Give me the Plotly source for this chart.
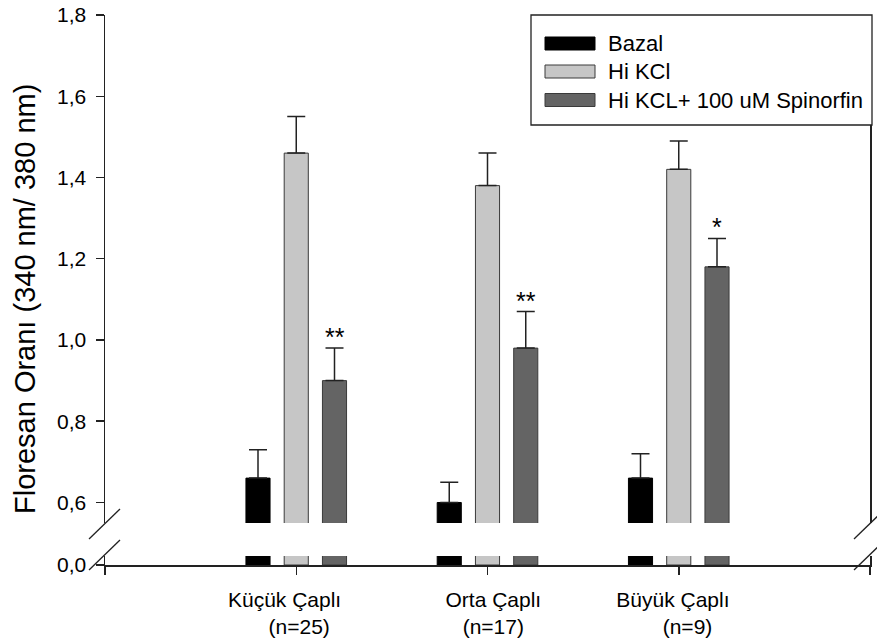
import plotly.graph_objects as go

# ---------------- data ----------------
categories = ["Küçük Çaplı", "Orta Çaplı", "Büyük Çaplı"]
sample_sizes = ["(n=25)", "(n=17)", "(n=9)"]
series_names = ["Bazal", "Hi KCl", "Hi KCL+ 100 uM Spinorfin"]
bazal = [0.66, 0.60, 0.66]
bazal_err = [0.07, 0.05, 0.06]
hikcl = [1.46, 1.38, 1.42]
hikcl_err = [0.09, 0.08, 0.07]
spinorfin = [0.90, 0.98, 1.18]
spinorfin_err = [0.08, 0.09, 0.07]
significance = ["**", "**", "*"]
y_ticks_upper = [0.6, 0.8, 1.0, 1.2, 1.4, 1.6, 1.8]
y_ticks_lower = [0.0]
y_title = "Floresan Oranı (340 nm/ 380 nm)"

# ---------------- styling ----------------
FONT = "Arial, Liberation Sans, sans-serif"
AX = "#222222"
colors = ["#000000", "#c6c6c6", "#646464"]
outlines = ["#000000", "#3a3a3a", "#3a3a3a"]
offsets = [-0.263, -0.063, 0.137]
BAR_W = 0.126

W, H = 877, 641
PL, PT, PR, PB = 105, 15, 870, 565   # plot area in page pixels
L, T, R, B = PL, PT, W - PR, H - PB
PW, PH = PR - PL, PB - PT


def px_x(p):
    return (p - PL) / PW


def px_y(p):
    return (PB - p) / PH


x_pos = list(range(1, len(categories) + 1))
values = [bazal, hikcl, spinorfin]
errors = [bazal_err, hikcl_err, spinorfin_err]

NB = "\u00a0"
pads = [((0, 4), (1, 0)), ((2, 0), (2, 0)), ((0, 2), (3, 0))]
ticktext = [""]
for cat, n, ((l1, r1), (l2, r2)) in zip(categories, sample_sizes, pads):
    ticktext.append(NB * l1 + cat + NB * r1 + "<br>" + NB * l2 + n + NB * r2)
ticktext.append("")

fig = go.Figure()

for i in range(3):
    fig.add_trace(go.Bar(
        x=x_pos, y=values[i], name=series_names[i], xaxis="x", yaxis="y2",
        width=BAR_W, offset=offsets[i],
        marker=dict(color=colors[i], line=dict(color=outlines[i], width=1)),
        error_y=dict(type="data", symmetric=False, array=errors[i],
                     arrayminus=[0] * len(errors[i]), color=AX,
                     thickness=1.5, width=9),
        showlegend=False,
    ))
    fig.add_trace(go.Bar(
        x=x_pos, y=values[i], name=series_names[i], xaxis="x", yaxis="y",
        width=BAR_W, offset=offsets[i],
        marker=dict(color=colors[i], line=dict(color=outlines[i], width=1)),
        showlegend=False,
    ))

annotations = []
for xp, v, e, s in zip(x_pos, spinorfin, spinorfin_err, significance):
    annotations.append(dict(
        x=xp + offsets[2] + BAR_W / 2, y=v + e, xref="x", yref="y2",
        text=s, showarrow=False, yanchor="bottom", yshift=-5,
        font=dict(family=FONT, size=25, color="#000000"),
    ))

annotations.append(dict(
    x=px_x(25), y=px_y(299), xref="paper", yref="paper", text=y_title,
    textangle=-90, showarrow=False, xanchor="center", yanchor="middle",
    font=dict(family=FONT, size=29, color="#000000"),
))

shapes = []
shapes.append(dict(type="rect", xref="paper", yref="paper",
                   x0=px_x(531), x1=px_x(872), y0=px_y(125), y1=px_y(15),
                   line=dict(color=AX, width=1.3), fillcolor="white",
                   layer="above"))
row_y = [43.5, 71.5, 100]
for i, ry in enumerate(row_y):
    shapes.append(dict(type="rect", xref="paper", yref="paper",
                       x0=px_x(545), x1=px_x(595),
                       y0=px_y(ry + 6.5), y1=px_y(ry - 6.5),
                       line=dict(color=outlines[i], width=1),
                       fillcolor=colors[i], layer="above"))
    annotations.append(dict(
        x=px_x(606), y=px_y(ry), xref="paper", yref="paper",
        text=series_names[i], showarrow=False, xanchor="left",
        yanchor="middle", font=dict(family=FONT, size=22, color="#000000"),
    ))

for xc in (PL, PR):
    for yc in (524, 555):
        shapes.append(dict(type="line", xref="paper", yref="paper",
                           x0=px_x(xc - 16), y0=px_y(yc + 15),
                           x1=px_x(xc + 15), y1=px_y(yc - 15),
                           line=dict(color=AX, width=1.3)))

fig.update_layout(
    width=W, height=H,
    margin=dict(l=L, r=R, t=T, b=B, pad=0, autoexpand=False),
    paper_bgcolor="white", plot_bgcolor="white",
    separators=",.",
    barmode="overlay",
    showlegend=False,
    hovermode=False,
    font=dict(family=FONT, size=21, color="#000000"),
    xaxis=dict(
        domain=[0, 1], anchor="y", range=[0, 4], automargin=False,
        tickmode="array", tickvals=[0] + x_pos + [4], ticktext=ticktext,
        ticks="outside", ticklen=8, tickwidth=1.5, tickcolor=AX,
        ticklabelstandoff=7,
        showline=True, linecolor=AX, linewidth=1.5,
        showgrid=False, zeroline=False,
        tickfont=dict(family=FONT, size=21, color="#000000"),
    ),
    xaxis2=dict(
        matches="x", anchor="y2", overlaying="x", side="top",
        automargin=False,
        showline=True, linecolor=AX, linewidth=1.5,
        showticklabels=False, ticks="", showgrid=False, zeroline=False,
    ),
    yaxis=dict(
        domain=[0, 9 / PH], range=[0, 0.0222], automargin=False,
        tickmode="array", tickvals=y_ticks_lower, tickformat=".1f",
        ticks="outside", ticklen=8, tickwidth=1.5, tickcolor=AX,
        ticklabelstandoff=5,
        showline=True, mirror=True, linecolor=AX, linewidth=1.5,
        showgrid=False, zeroline=False,
        tickfont=dict(family=FONT, size=21, color="#000000"),
    ),
    yaxis2=dict(
        domain=[42 / PH, 1], range=[0.5495, 1.8], anchor="x",
        automargin=False,
        tickmode="array", tickvals=y_ticks_upper, tickformat=".1f",
        ticks="outside", ticklen=8, tickwidth=1.5, tickcolor=AX,
        ticklabelstandoff=5, ticklabeloverflow="allow",
        showline=True, mirror=True, linecolor=AX, linewidth=1.5,
        showgrid=False, zeroline=False,
        tickfont=dict(family=FONT, size=21, color="#000000"),
    ),
    annotations=annotations,
    shapes=shapes,
)

fig.write_html(
    "out.html",
    config={"displayModeBar": False, "staticPlot": True},
    post_script="document.body.style.margin='0';document.body.style.overflow='hidden';",
)
